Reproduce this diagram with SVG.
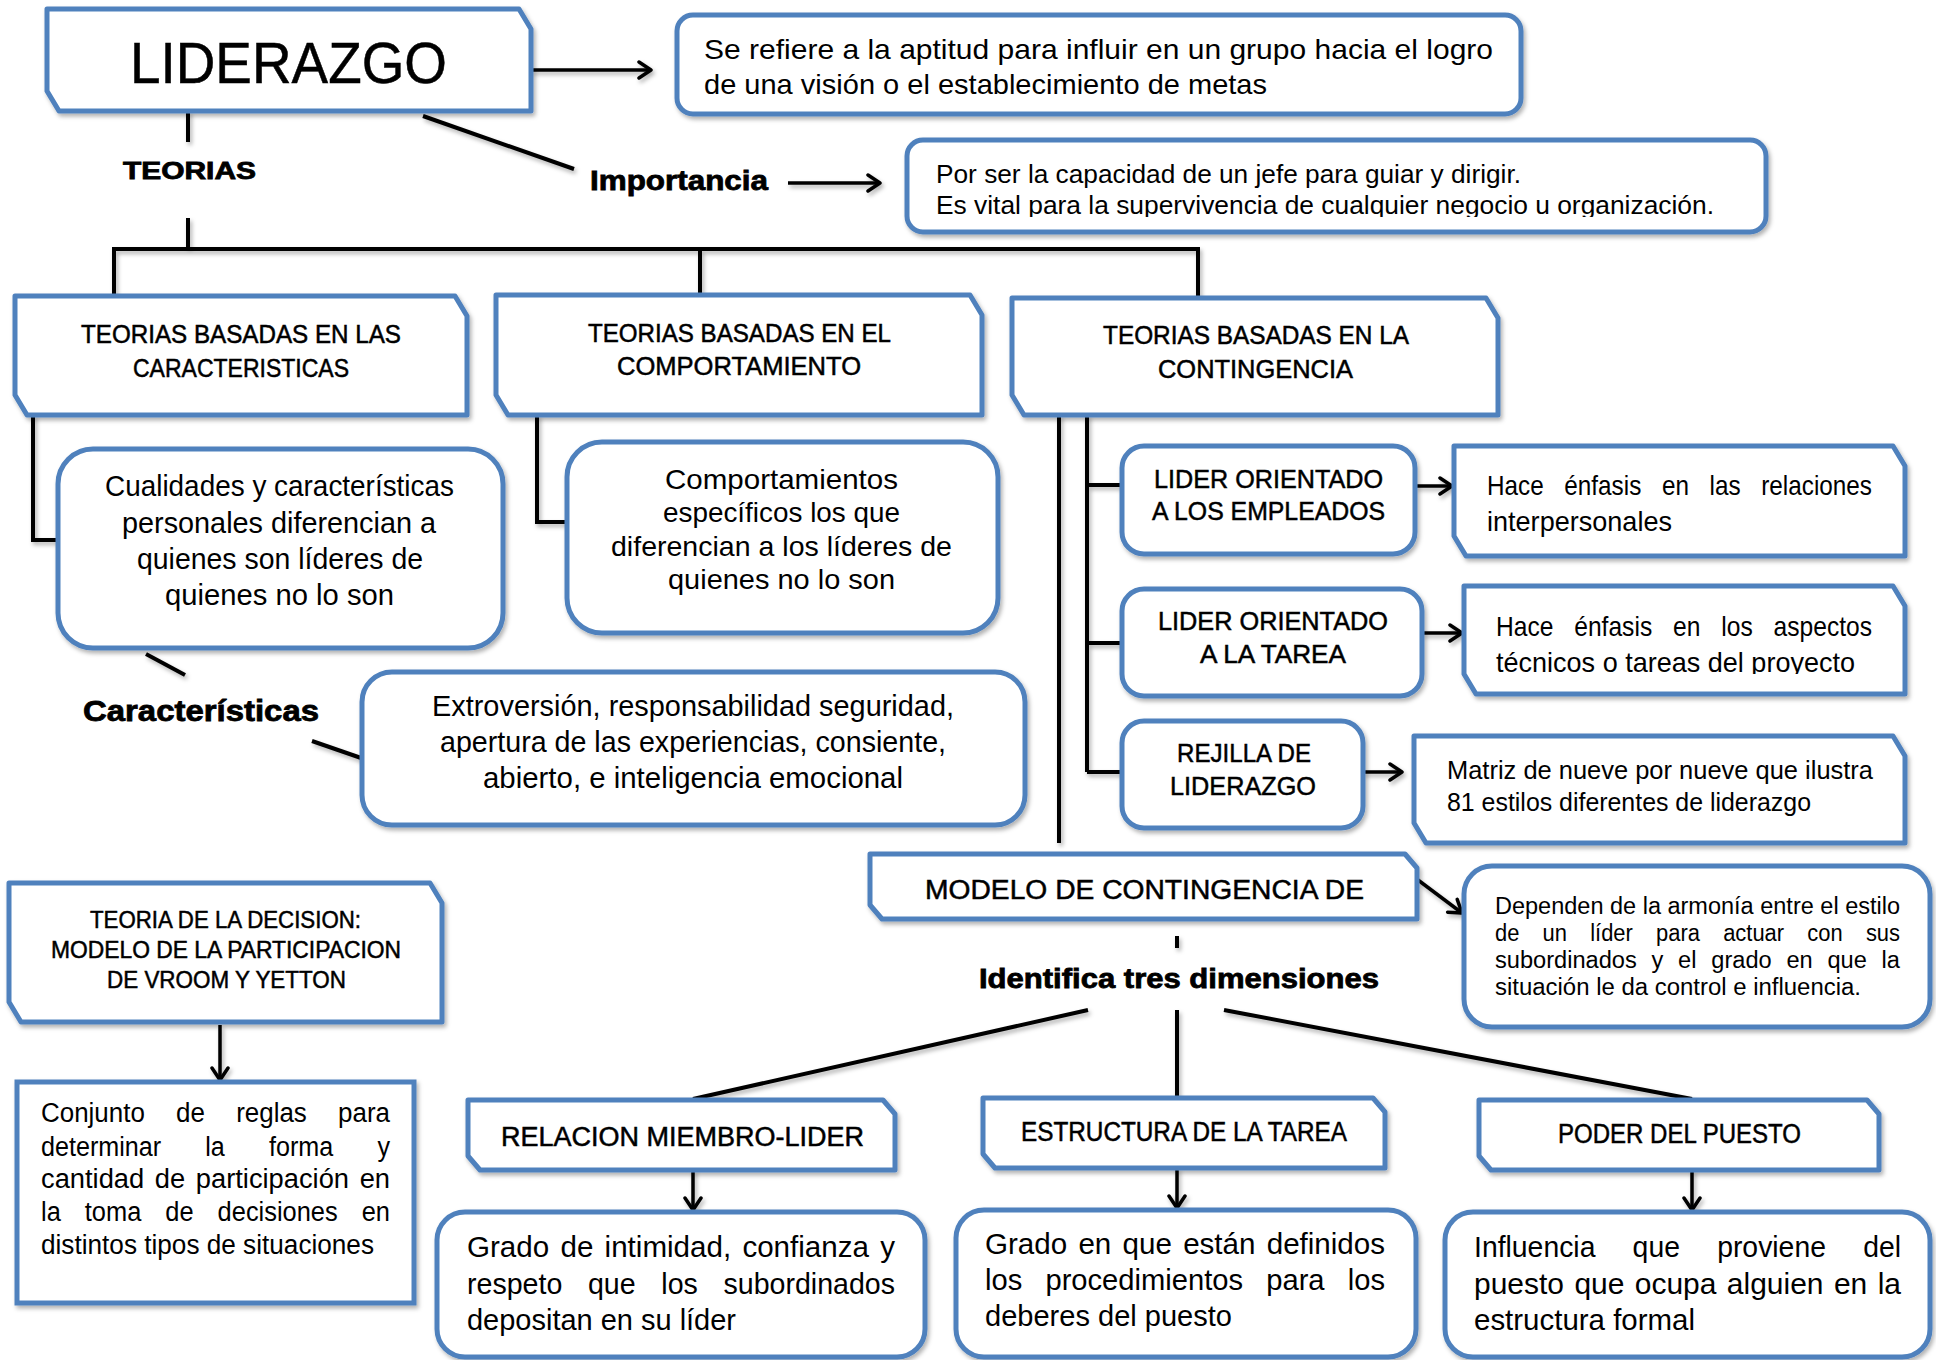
<svg xmlns="http://www.w3.org/2000/svg" width="1936" height="1360" viewBox="0 0 1936 1360">
<defs>
<style>
.box{fill:#fff;stroke:#4f81bd;stroke-width:5;stroke-linejoin:round}
.ln{stroke:#000;stroke-width:4;fill:none}
.ar{stroke:#000;stroke-width:3.5;fill:none}
text{font-family:"Liberation Sans Narrow","Liberation Sans",Arial,sans-serif;fill:#000}
.b{font-weight:bold;stroke:#000;stroke-width:0.8}
.h{stroke:#000;stroke-width:0.5}
</style>
<filter id="sh" x="-5%" y="-5%" width="112%" height="120%">
<feDropShadow dx="2" dy="3" stdDeviation="2" flood-color="#000" flood-opacity="0.3"/>
</filter>
<marker id="ah" viewBox="0 0 20 20" refX="17" refY="10" markerWidth="20" markerHeight="20" markerUnits="userSpaceOnUse" orient="auto">
<path d="M5,2 L17,10 L5,18" fill="none" stroke="#000" stroke-width="3.5" stroke-linecap="round" stroke-linejoin="round"/>
</marker>
<clipPath id="c1"><rect x="900" y="140" width="880" height="77"/></clipPath>
<clipPath id="c2"><rect x="1460" y="586" width="450" height="88"/></clipPath>
</defs>
<rect width="1936" height="1360" fill="#fff"/>

<g id="connectors" filter="url(#sh)">
<line class="ar" x1="531" y1="70" x2="651" y2="70" marker-end="url(#ah)"/>
<line class="ln" x1="423" y1="116" x2="574" y2="169"/>
<line class="ar" x1="788" y1="183" x2="880" y2="183" marker-end="url(#ah)"/>
<line class="ln" x1="188" y1="111" x2="188" y2="142"/>
<polyline class="ln" points="188,218 188,249"/>
<polyline class="ln" points="114,296 114,249 1198,249 1198,298"/>
<line class="ln" x1="700" y1="249" x2="700" y2="295"/>
<polyline class="ln" points="33,415 33,540 58,540"/>
<polyline class="ln" points="537,415 537,522 567,522"/>
<line class="ln" x1="146" y1="654" x2="185" y2="675"/>
<line class="ln" x1="312" y1="741" x2="364" y2="759"/>
<line class="ln" x1="1059" y1="415" x2="1059" y2="843"/>
<line class="ln" x1="1087" y1="415" x2="1087" y2="772"/>
<line class="ln" x1="1087" y1="485" x2="1122" y2="485"/>
<line class="ln" x1="1087" y1="643" x2="1122" y2="643"/>
<line class="ln" x1="1087" y1="772" x2="1122" y2="772"/>
<line class="ar" x1="1415" y1="486" x2="1452" y2="486" marker-end="url(#ah)"/>
<line class="ar" x1="1422" y1="633" x2="1462" y2="633" marker-end="url(#ah)"/>
<line class="ar" x1="1363" y1="772" x2="1402" y2="772" marker-end="url(#ah)"/>
<line class="ar" x1="1418" y1="880" x2="1462" y2="913" marker-end="url(#ah)"/>
<line class="ln" x1="1177" y1="936" x2="1177" y2="948"/>
<line class="ln" x1="1088" y1="1010" x2="693" y2="1099"/>
<line class="ln" x1="1177" y1="1010" x2="1177" y2="1098"/>
<line class="ln" x1="1224" y1="1010" x2="1692" y2="1099"/>
<line class="ar" x1="693" y1="1170" x2="693" y2="1210" marker-end="url(#ah)"/>
<line class="ar" x1="1177" y1="1168" x2="1177" y2="1208" marker-end="url(#ah)"/>
<line class="ar" x1="1692" y1="1170" x2="1692" y2="1210" marker-end="url(#ah)"/>
<line class="ar" x1="220" y1="1025" x2="220" y2="1080" marker-end="url(#ah)"/>
</g>

<g id="n-liderazgo"><path class="box" filter="url(#sh)" d="M47,9 H519 L531,29 V111 H59 L47,91 Z"/>
<text class="h" x="130" y="83" font-size="57" textLength="317" lengthAdjust="spacingAndGlyphs">LIDERAZGO</text></g>

<g id="n-definicion"><rect class="box" filter="url(#sh)" x="677" y="15" width="844" height="99" rx="16"/>
<text x="704" y="59" font-size="28" textLength="789" lengthAdjust="spacingAndGlyphs">Se refiere a la aptitud para influir en un grupo hacia el logro</text>
<text x="704" y="94" font-size="28" textLength="563" lengthAdjust="spacingAndGlyphs">de una visión o el establecimiento de metas</text></g>

<g id="n-importancia-label"><text class="b" x="590" y="190" font-size="28" textLength="178" lengthAdjust="spacingAndGlyphs">Importancia</text></g>

<g id="n-importancia"><rect class="box" filter="url(#sh)" x="907" y="140" width="859" height="92" rx="16"/>
<g clip-path="url(#c1)">
<text x="936" y="183" font-size="25" textLength="585" lengthAdjust="spacingAndGlyphs">Por ser la capacidad de un jefe para guiar y dirigir.</text>
<text x="936" y="214" font-size="25" textLength="778" lengthAdjust="spacingAndGlyphs">Es vital para la supervivencia de cualquier negocio u organización.</text></g></g>

<g id="n-teorias-label"><text class="b" x="123" y="179" font-size="24" textLength="133" lengthAdjust="spacingAndGlyphs">TEORIAS</text></g>

<g id="n-caracteristicas"><path class="box" filter="url(#sh)" d="M15,296 H455 L467,316 V415 H27 L15,395 Z"/>
<text class="h" x="81" y="343" font-size="25" textLength="320" lengthAdjust="spacingAndGlyphs">TEORIAS BASADAS EN LAS</text>
<text class="h" x="133" y="377" font-size="25" textLength="216" lengthAdjust="spacingAndGlyphs">CARACTERISTICAS</text></g>

<g id="n-comportamiento"><path class="box" filter="url(#sh)" d="M496,295 H970 L982,315 V415 H508 L496,395 Z"/>
<text class="h" x="588" y="342" font-size="25" textLength="303" lengthAdjust="spacingAndGlyphs">TEORIAS BASADAS EN EL</text>
<text class="h" x="617" y="375" font-size="25" textLength="244" lengthAdjust="spacingAndGlyphs">COMPORTAMIENTO</text></g>

<g id="n-contingencia"><path class="box" filter="url(#sh)" d="M1012,298 H1486 L1498,318 V415 H1024 L1012,395 Z"/>
<text class="h" x="1103" y="344" font-size="25" textLength="306" lengthAdjust="spacingAndGlyphs">TEORIAS BASADAS EN LA</text>
<text class="h" x="1158" y="378" font-size="25" textLength="195" lengthAdjust="spacingAndGlyphs">CONTINGENCIA</text></g>

<g id="n-cualidades"><rect class="box" filter="url(#sh)" x="58" y="449" width="445" height="199" rx="35"/>
<text x="105" y="496" font-size="29" textLength="349" lengthAdjust="spacingAndGlyphs">Cualidades y características</text>
<text x="122" y="533" font-size="29" textLength="314" lengthAdjust="spacingAndGlyphs">personales diferencian a</text>
<text x="137" y="569" font-size="29" textLength="286" lengthAdjust="spacingAndGlyphs">quienes son líderes de</text>
<text x="165" y="605" font-size="29" textLength="229" lengthAdjust="spacingAndGlyphs">quienes no lo son</text></g>

<g id="n-comportamientos"><rect class="box" filter="url(#sh)" x="567" y="442" width="431" height="191" rx="35"/>
<text x="665" y="489" font-size="28" textLength="233" lengthAdjust="spacingAndGlyphs">Comportamientos</text>
<text x="663" y="522" font-size="28" textLength="237" lengthAdjust="spacingAndGlyphs">específicos los que</text>
<text x="611" y="556" font-size="28" textLength="341" lengthAdjust="spacingAndGlyphs">diferencian a los líderes de</text>
<text x="668" y="589" font-size="28" textLength="227" lengthAdjust="spacingAndGlyphs">quienes no lo son</text></g>

<g id="n-caracteristicas-label"><text class="b" x="83" y="721" font-size="30" textLength="236" lengthAdjust="spacingAndGlyphs">Características</text></g>

<g id="n-extroversion"><rect class="box" filter="url(#sh)" x="362" y="672" width="663" height="153" rx="30"/>
<text x="432" y="716" font-size="29" textLength="522" lengthAdjust="spacingAndGlyphs">Extroversión, responsabilidad seguridad,</text>
<text x="440" y="752" font-size="29" textLength="506" lengthAdjust="spacingAndGlyphs">apertura de las experiencias, consiente,</text>
<text x="483" y="788" font-size="29" textLength="420" lengthAdjust="spacingAndGlyphs">abierto, e inteligencia emocional</text></g>

<g id="n-lider-empleados"><rect class="box" filter="url(#sh)" x="1122" y="446" width="293" height="108" rx="22"/>
<text class="h" x="1154" y="488" font-size="26" textLength="229" lengthAdjust="spacingAndGlyphs">LIDER ORIENTADO</text>
<text class="h" x="1152" y="520" font-size="26" textLength="233" lengthAdjust="spacingAndGlyphs">A LOS EMPLEADOS</text></g>

<g id="n-relaciones"><path class="box" filter="url(#sh)" d="M1454,446 H1893 L1905,466 V556 H1466 L1454,536 Z"/>
<text x="1487" y="495" font-size="28" word-spacing="16" textLength="385" lengthAdjust="spacingAndGlyphs">Hace énfasis en las relaciones</text>
<text x="1487" y="531" font-size="28" textLength="185" lengthAdjust="spacingAndGlyphs">interpersonales</text></g>

<g id="n-lider-tarea"><rect class="box" filter="url(#sh)" x="1122" y="589" width="300" height="107" rx="22"/>
<text class="h" x="1158" y="630" font-size="26" textLength="230" lengthAdjust="spacingAndGlyphs">LIDER ORIENTADO</text>
<text class="h" x="1200" y="663" font-size="26" textLength="146" lengthAdjust="spacingAndGlyphs">A LA TAREA</text></g>

<g id="n-aspectos"><path class="box" filter="url(#sh)" d="M1464,586 H1893 L1905,606 V694 H1476 L1464,674 Z"/>
<g clip-path="url(#c2)">
<text x="1496" y="636" font-size="28" word-spacing="16" textLength="376" lengthAdjust="spacingAndGlyphs">Hace énfasis en los aspectos</text>
<text x="1496" y="672" font-size="28" textLength="359" lengthAdjust="spacingAndGlyphs">técnicos o tareas del proyecto</text></g></g>

<g id="n-rejilla"><rect class="box" filter="url(#sh)" x="1122" y="721" width="241" height="107" rx="22"/>
<text class="h" x="1177" y="762" font-size="26" textLength="134" lengthAdjust="spacingAndGlyphs">REJILLA DE</text>
<text class="h" x="1170" y="795" font-size="26" textLength="146" lengthAdjust="spacingAndGlyphs">LIDERAZGO</text></g>

<g id="n-matriz"><path class="box" filter="url(#sh)" d="M1414,736 H1893 L1905,756 V843 H1426 L1414,823 Z"/>
<text x="1447" y="779" font-size="25" textLength="426" lengthAdjust="spacingAndGlyphs">Matriz de nueve por nueve que ilustra</text>
<text x="1447" y="811" font-size="25" textLength="364" lengthAdjust="spacingAndGlyphs">81 estilos diferentes de liderazgo</text></g>

<g id="n-modelo"><path class="box" filter="url(#sh)" d="M870,854 H1405 L1417,868 V919 H882 L870,905 Z"/>
<text class="h" x="925" y="899" font-size="27" textLength="439" lengthAdjust="spacingAndGlyphs">MODELO DE CONTINGENCIA DE</text></g>

<g id="n-dependen"><rect class="box" filter="url(#sh)" x="1464" y="866" width="466" height="161" rx="28"/>
<text x="1495" y="914" font-size="23" textLength="405" lengthAdjust="spacingAndGlyphs">Dependen de la armonía entre el estilo</text>
<text x="1495" y="941" font-size="23" word-spacing="18" textLength="405" lengthAdjust="spacingAndGlyphs">de un líder para actuar con sus</text>
<text x="1495" y="968" font-size="23" word-spacing="8" textLength="405" lengthAdjust="spacingAndGlyphs">subordinados y el grado en que la</text>
<text x="1495" y="995" font-size="23" textLength="366" lengthAdjust="spacingAndGlyphs">situación le da control e influencia.</text></g>

<g id="n-identifica"><text class="b" x="979" y="988" font-size="28" textLength="400" lengthAdjust="spacingAndGlyphs">Identifica tres dimensiones</text></g>

<g id="n-decision"><path class="box" filter="url(#sh)" d="M9,883 H430 L442,903 V1022 H21 L9,1002 Z"/>
<text class="h" x="90" y="928" font-size="24" textLength="271" lengthAdjust="spacingAndGlyphs">TEORIA DE LA DECISION:</text>
<text class="h" x="51" y="958" font-size="24" textLength="350" lengthAdjust="spacingAndGlyphs">MODELO DE LA PARTICIPACION</text>
<text class="h" x="107" y="988" font-size="24" textLength="239" lengthAdjust="spacingAndGlyphs">DE VROOM Y YETTON</text></g>

<g id="n-conjunto"><rect class="box" filter="url(#sh)" x="17" y="1082" width="397" height="221" style="stroke-linejoin:miter"/>
<text x="41" y="1122" font-size="27" word-spacing="25" textLength="349" lengthAdjust="spacingAndGlyphs">Conjunto de reglas para</text>
<text x="41" y="1156" font-size="27" word-spacing="40" textLength="349" lengthAdjust="spacingAndGlyphs">determinar la forma y</text>
<text x="41" y="1188" font-size="27" word-spacing="3" textLength="349" lengthAdjust="spacingAndGlyphs">cantidad de participación en</text>
<text x="41" y="1221" font-size="27" word-spacing="18" textLength="349" lengthAdjust="spacingAndGlyphs">la toma de decisiones en</text>
<text x="41" y="1254" font-size="27" textLength="333" lengthAdjust="spacingAndGlyphs">distintos tipos de situaciones</text></g>

<g id="n-relacion"><path class="box" filter="url(#sh)" d="M468,1100 H883 L895,1114 V1170 H480 L468,1156 Z"/>
<text class="h" x="501" y="1146" font-size="27" textLength="363" lengthAdjust="spacingAndGlyphs">RELACION MIEMBRO-LIDER</text></g>

<g id="n-estructura"><path class="box" filter="url(#sh)" d="M983,1098 H1373 L1385,1112 V1168 H995 L983,1154 Z"/>
<text class="h" x="1021" y="1141" font-size="27" textLength="326" lengthAdjust="spacingAndGlyphs">ESTRUCTURA DE LA TAREA</text></g>

<g id="n-poder"><path class="box" filter="url(#sh)" d="M1479,1100 H1867 L1879,1114 V1170 H1491 L1479,1156 Z"/>
<text class="h" x="1558" y="1143" font-size="27" textLength="243" lengthAdjust="spacingAndGlyphs">PODER DEL PUESTO</text></g>

<g id="n-intimidad"><rect class="box" filter="url(#sh)" x="437" y="1212" width="488" height="145" rx="28"/>
<text x="467" y="1257" font-size="29" word-spacing="3" textLength="428" lengthAdjust="spacingAndGlyphs">Grado de intimidad, confianza y</text>
<text x="467" y="1294" font-size="29" word-spacing="18" textLength="428" lengthAdjust="spacingAndGlyphs">respeto que los subordinados</text>
<text x="467" y="1330" font-size="29" textLength="269" lengthAdjust="spacingAndGlyphs">depositan en su líder</text></g>

<g id="n-definidos"><rect class="box" filter="url(#sh)" x="956" y="1210" width="460" height="147" rx="28"/>
<text x="985" y="1254" font-size="29" word-spacing="3" textLength="400" lengthAdjust="spacingAndGlyphs">Grado en que están definidos</text>
<text x="985" y="1290" font-size="29" word-spacing="15" textLength="400" lengthAdjust="spacingAndGlyphs">los procedimientos para los</text>
<text x="985" y="1326" font-size="29" textLength="247" lengthAdjust="spacingAndGlyphs">deberes del puesto</text></g>

<g id="n-influencia"><rect class="box" filter="url(#sh)" x="1445" y="1212" width="485" height="145" rx="28"/>
<text x="1474" y="1257" font-size="29" word-spacing="30" textLength="427" lengthAdjust="spacingAndGlyphs">Influencia que proviene del</text>
<text x="1474" y="1294" font-size="29" word-spacing="2" textLength="427" lengthAdjust="spacingAndGlyphs">puesto que ocupa alguien en la</text>
<text x="1474" y="1330" font-size="29" textLength="221" lengthAdjust="spacingAndGlyphs">estructura formal</text></g>
</svg>
